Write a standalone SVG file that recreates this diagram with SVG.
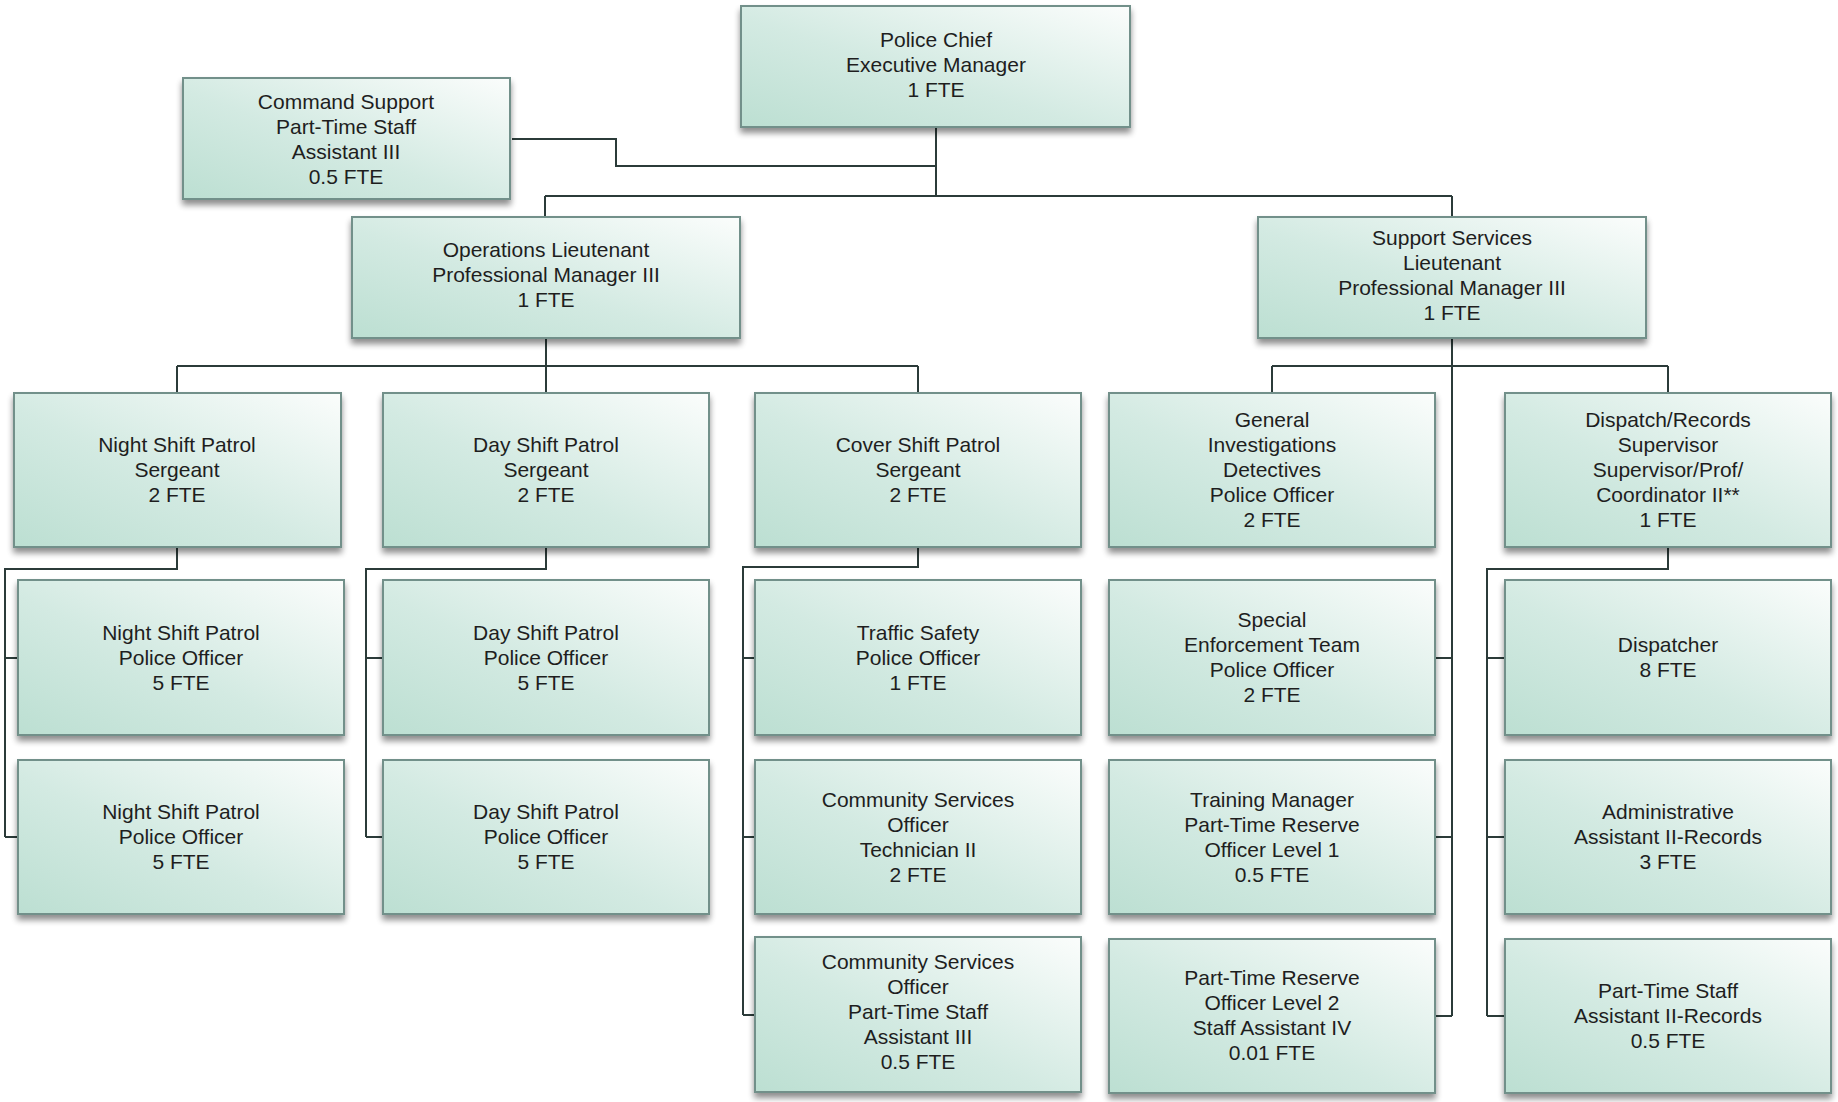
<svg xmlns="http://www.w3.org/2000/svg" width="1838" height="1102" viewBox="0 0 1838 1102">
<defs>
<linearGradient id="g" x1="0" y1="1" x2="1" y2="0">
<stop offset="0" stop-color="#bcdfd2"/>
<stop offset="0.45" stop-color="#d3eae2"/>
<stop offset="1" stop-color="#fbfdfc"/>
</linearGradient>
<filter id="sh" x="-5%" y="-10%" width="110%" height="130%">
<feGaussianBlur in="SourceAlpha" stdDeviation="3"/>
<feOffset dx="0" dy="5" result="b"/>
<feComponentTransfer><feFuncA type="linear" slope="0.45"/></feComponentTransfer>
<feMerge><feMergeNode/><feMergeNode in="SourceGraphic"/></feMerge>
</filter>
</defs>
<style>
.box{fill:url(#g);stroke:#72908a;stroke-width:2;filter:url(#sh)}
.t{font-family:"Liberation Sans",Arial,sans-serif;font-size:21px;fill:#1e1e1e;text-anchor:middle}
.c{fill:none;stroke:#2b3b39;stroke-width:2}
</style>
<rect width="1838" height="1102" fill="#ffffff"/>
<g id="connectors" class="c">
<path d="M936 127V196M512 139H616V166H936M545 196H1452M545 196V217M1452 196V217"/>
<path d="M546 338V366M177 366H918M177 366V393M546 366V393M918 366V393"/>
<path d="M1452 338V1016M1272 366H1668M1272 366V393M1668 366V393M1452 658H1435M1452 837H1435M1452 1016H1435"/>
<path d="M177 547V569H5V837M5 658H18M5 837H18"/>
<path d="M546 547V569H366V837M366 658H383M366 837H383"/>
<path d="M918 547V567H743V1015M743 658H755M743 837H755M743 1015H755"/>
<path d="M1668 547V569H1487V1016M1487 658H1505M1487 837H1505M1487 1016H1505"/>
</g>
<g id="chief"><rect class="box" x="741" y="6" width="389" height="121"/>
<text class="t" x="936" y="47">Police Chief</text><text class="t" x="936" y="72">Executive Manager</text><text class="t" x="936" y="97">1 FTE</text></g>
<g id="cmd"><rect class="box" x="183" y="78" width="327" height="121"/>
<text class="t" x="346" y="109">Command Support</text><text class="t" x="346" y="134">Part-Time Staff</text><text class="t" x="346" y="159">Assistant III</text><text class="t" x="346" y="184">0.5 FTE</text></g>
<g id="ops"><rect class="box" x="352" y="217" width="388" height="121"/>
<text class="t" x="546" y="257">Operations Lieutenant</text><text class="t" x="546" y="282">Professional Manager III</text><text class="t" x="546" y="307">1 FTE</text></g>
<g id="sup"><rect class="box" x="1258" y="217" width="388" height="121"/>
<text class="t" x="1452" y="245">Support Services</text><text class="t" x="1452" y="270">Lieutenant</text><text class="t" x="1452" y="295">Professional Manager III</text><text class="t" x="1452" y="320">1 FTE</text></g>
<g id="night-sgt"><rect class="box" x="14" y="393" width="327" height="154"/>
<text class="t" x="177" y="452">Night Shift Patrol</text><text class="t" x="177" y="477">Sergeant</text><text class="t" x="177" y="502">2 FTE</text></g>
<g id="day-sgt"><rect class="box" x="383" y="393" width="326" height="154"/>
<text class="t" x="546" y="452">Day Shift Patrol</text><text class="t" x="546" y="477">Sergeant</text><text class="t" x="546" y="502">2 FTE</text></g>
<g id="cover-sgt"><rect class="box" x="755" y="393" width="326" height="154"/>
<text class="t" x="918" y="452">Cover Shift Patrol</text><text class="t" x="918" y="477">Sergeant</text><text class="t" x="918" y="502">2 FTE</text></g>
<g id="gen"><rect class="box" x="1109" y="393" width="326" height="154"/>
<text class="t" x="1272" y="427">General</text><text class="t" x="1272" y="452">Investigations</text><text class="t" x="1272" y="477">Detectives</text><text class="t" x="1272" y="502">Police Officer</text><text class="t" x="1272" y="527">2 FTE</text></g>
<g id="disp-sup"><rect class="box" x="1505" y="393" width="326" height="154"/>
<text class="t" x="1668" y="427">Dispatch/Records</text><text class="t" x="1668" y="452">Supervisor</text><text class="t" x="1668" y="477">Supervisor/Prof/</text><text class="t" x="1668" y="502">Coordinator II**</text><text class="t" x="1668" y="527">1 FTE</text></g>
<g id="night-po1"><rect class="box" x="18" y="580" width="326" height="155"/>
<text class="t" x="181" y="640">Night Shift Patrol</text><text class="t" x="181" y="665">Police Officer</text><text class="t" x="181" y="690">5 FTE</text></g>
<g id="day-po1"><rect class="box" x="383" y="580" width="326" height="155"/>
<text class="t" x="546" y="640">Day Shift Patrol</text><text class="t" x="546" y="665">Police Officer</text><text class="t" x="546" y="690">5 FTE</text></g>
<g id="traffic"><rect class="box" x="755" y="580" width="326" height="155"/>
<text class="t" x="918" y="640">Traffic Safety</text><text class="t" x="918" y="665">Police Officer</text><text class="t" x="918" y="690">1 FTE</text></g>
<g id="special"><rect class="box" x="1109" y="580" width="326" height="155"/>
<text class="t" x="1272" y="627">Special</text><text class="t" x="1272" y="652">Enforcement Team</text><text class="t" x="1272" y="677">Police Officer</text><text class="t" x="1272" y="702">2 FTE</text></g>
<g id="dispatcher"><rect class="box" x="1505" y="580" width="326" height="155"/>
<text class="t" x="1668" y="652">Dispatcher</text><text class="t" x="1668" y="677">8 FTE</text></g>
<g id="night-po2"><rect class="box" x="18" y="760" width="326" height="154"/>
<text class="t" x="181" y="819">Night Shift Patrol</text><text class="t" x="181" y="844">Police Officer</text><text class="t" x="181" y="869">5 FTE</text></g>
<g id="day-po2"><rect class="box" x="383" y="760" width="326" height="154"/>
<text class="t" x="546" y="819">Day Shift Patrol</text><text class="t" x="546" y="844">Police Officer</text><text class="t" x="546" y="869">5 FTE</text></g>
<g id="cso-tech"><rect class="box" x="755" y="760" width="326" height="154"/>
<text class="t" x="918" y="807">Community Services</text><text class="t" x="918" y="832">Officer</text><text class="t" x="918" y="857">Technician II</text><text class="t" x="918" y="882">2 FTE</text></g>
<g id="training"><rect class="box" x="1109" y="760" width="326" height="154"/>
<text class="t" x="1272" y="807">Training Manager</text><text class="t" x="1272" y="832">Part-Time Reserve</text><text class="t" x="1272" y="857">Officer Level 1</text><text class="t" x="1272" y="882">0.5 FTE</text></g>
<g id="admin"><rect class="box" x="1505" y="760" width="326" height="154"/>
<text class="t" x="1668" y="819">Administrative</text><text class="t" x="1668" y="844">Assistant II-Records</text><text class="t" x="1668" y="869">3 FTE</text></g>
<g id="cso-pt"><rect class="box" x="755" y="937" width="326" height="155"/>
<text class="t" x="918" y="969">Community Services</text><text class="t" x="918" y="994">Officer</text><text class="t" x="918" y="1019">Part-Time Staff</text><text class="t" x="918" y="1044">Assistant III</text><text class="t" x="918" y="1069">0.5 FTE</text></g>
<g id="reserve2"><rect class="box" x="1109" y="939" width="326" height="154"/>
<text class="t" x="1272" y="985">Part-Time Reserve</text><text class="t" x="1272" y="1010">Officer Level 2</text><text class="t" x="1272" y="1035">Staff Assistant IV</text><text class="t" x="1272" y="1060">0.01 FTE</text></g>
<g id="pt-records"><rect class="box" x="1505" y="939" width="326" height="154"/>
<text class="t" x="1668" y="998">Part-Time Staff</text><text class="t" x="1668" y="1023">Assistant II-Records</text><text class="t" x="1668" y="1048">0.5 FTE</text></g>
</svg>
